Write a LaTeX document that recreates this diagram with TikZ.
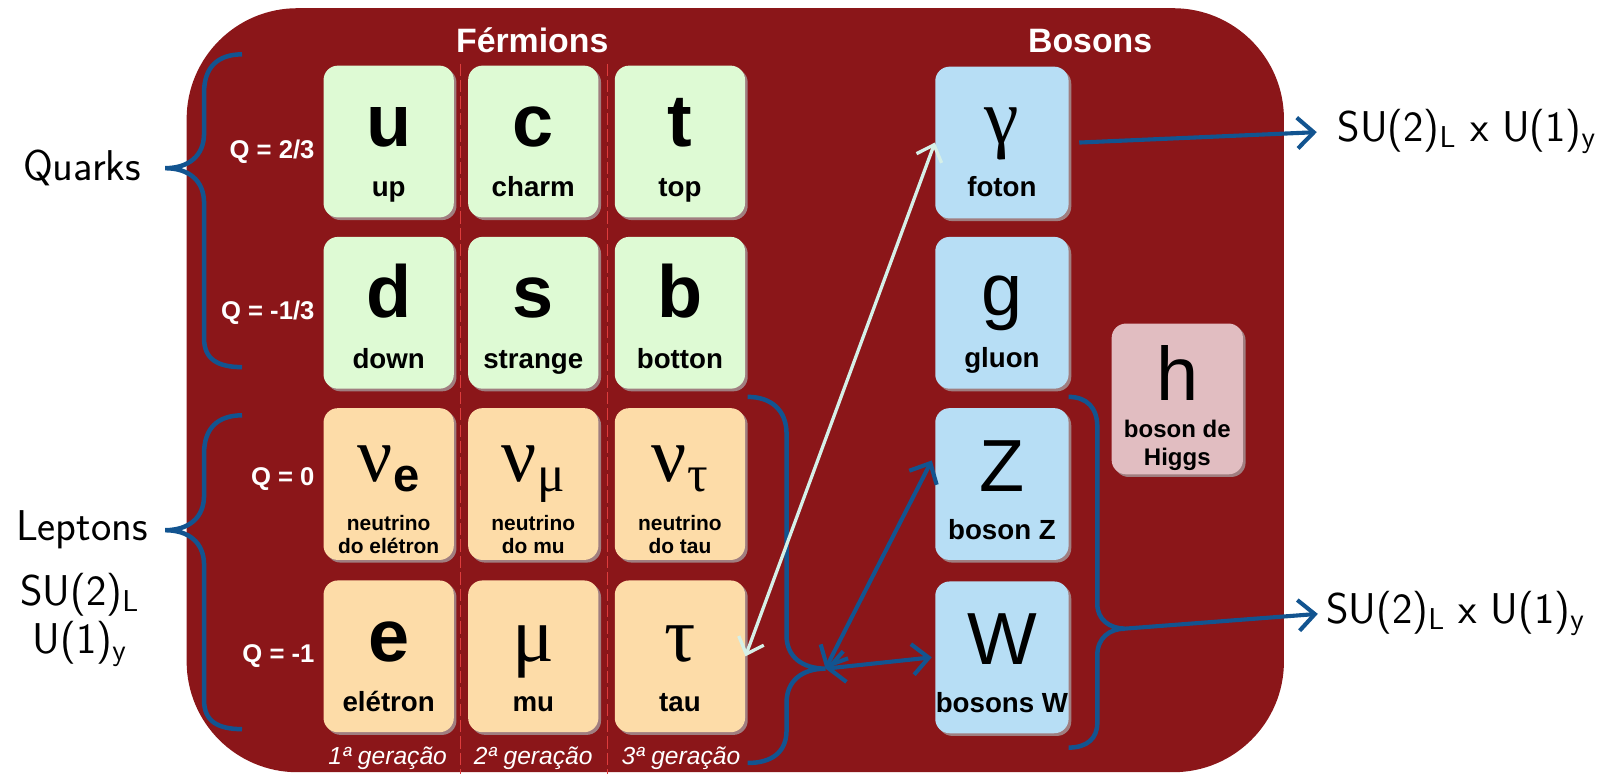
\documentclass[tikz,border=0pt]{standalone}
\usepackage{fontspec}
\newfontfamily\arialfont{Liberation Sans}
\newfontfamily\greekfont{Liberation Serif}
\usepackage{tikz}
\usetikzlibrary{arrows.meta,positioning,calc,shadows}

\definecolor{bgred}{RGB}{139,22,25}
\definecolor{quarkgreen}{RGB}{222,250,212}
\definecolor{leptonorange}{RGB}{253,220,168}
\definecolor{bosonblue}{RGB}{183,222,245}
\definecolor{higgspink}{RGB}{225,189,193}
\definecolor{boxshade}{RGB}{160,126,128}
\definecolor{braceblue}{RGB}{18,84,144}
\definecolor{mint}{RGB}{214,240,232}
\definecolor{genred}{RGB}{222,60,60}

\begin{document}
\begin{tikzpicture}[
  x=0.5pt, y=-0.5pt,
  pbox/.style={rounded corners=7pt, minimum width=63.5pt, minimum height=74pt, inner sep=0pt,
    drop shadow={shadow xshift=1.3pt, shadow yshift=-1.3pt, fill=boxshade, opacity=1}},
  qbox/.style={pbox, fill=quarkgreen},
  lbox/.style={pbox, fill=leptonorange},
  bbox/.style={pbox, minimum width=65pt, fill=bosonblue},
  sym/.style={anchor=base, inner sep=0pt, font=\fontsize{36}{36}\selectfont\arialfont\bfseries},
  symr/.style={anchor=base, inner sep=0pt, font=\fontsize{36}{36}\selectfont\arialfont},
  symg/.style={anchor=base, inner sep=0pt, font=\fontsize{38}{38}\selectfont\greekfont},
  plabel/.style={anchor=base, inner sep=0pt, font=\fontsize{13.5}{13.5}\selectfont\arialfont\bfseries},
  nlabel/.style={anchor=base, inner sep=0pt, font=\fontsize{10.2}{10.2}\selectfont\arialfont\bfseries},
  charge/.style={anchor=east, inner sep=0pt, text=white, font=\fontsize{12.5}{12.5}\selectfont\arialfont\bfseries},
  title/.style={anchor=base, inner sep=0pt, text=white, font=\fontsize{16.5}{16.5}\selectfont\arialfont\bfseries},
  gen/.style={anchor=base, inner sep=0pt, text=white, font=\fontsize{12}{12}\selectfont\arialfont\itshape},
  outer/.style={inner sep=0pt, font=\fontsize{21}{25}\selectfont\sffamily},
  brace/.style={draw=braceblue, line width=2.2pt},
  link/.style={draw=braceblue, line width=2pt, >={Straight Barb[length=8pt,width=15pt]}},
  mixing/.style={draw=mint, line width=1.6pt, >={Straight Barb[length=7pt,width=13pt]}},
  sep/.style={draw=genred, line width=0.5pt, dash pattern=on 6pt off 2pt}
]
\useasboundingbox (0,0) rectangle (1568,755);
\fill[bgred, rounded corners=54pt] (182,8) rectangle (1252,753);

% generation separators
\draw[sep] (449,62) -- (449,755);
\draw[sep] (592,62) -- (592,755);

\node[title] (fermions) at (519,51) {Férmions};
\node[title] (bosons) at (1063,51) {Bosons};

% quarks
\node[qbox] (u) at (379,138) {};
\node[qbox] (c) at (520,138) {};
\node[qbox] (t) at (663,138) {};
\node[qbox] (d) at (379,305) {};
\node[qbox] (s) at (520,305) {};
\node[qbox] (b) at (663,305) {};
\node[sym] (u-sym) at ($(u)+(0,5)$) {u};
\node[sym] (c-sym) at ($(c)+(0,5)$) {c};
\node[sym] (t-sym) at ($(t)+(0,5)$) {t};
\node[sym] (d-sym) at ($(d)+(0,5)$) {d};
\node[sym] (s-sym) at ($(s)+(0,5)$) {s};
\node[sym] (b-sym) at ($(b)+(0,5)$) {b};
\node[plabel] (u-lbl) at ($(u)+(0,54)$) {up};
\node[plabel] (c-lbl) at ($(c)+(0,54)$) {charm};
\node[plabel] (t-lbl) at ($(t)+(0,54)$) {top};
\node[plabel] (d-lbl) at ($(d)+(0,54)$) {down};
\node[plabel] (s-lbl) at ($(s)+(0,54)$) {strange};
\node[plabel] (b-lbl) at ($(b)+(0,54)$) {botton};

% leptons
\node[lbox] (nue) at (379,472) {};
\node[lbox] (numu) at (520,472) {};
\node[lbox] (nutau) at (663,472) {};
\node[lbox] (e) at (379,640) {};
\node[lbox] (mu) at (520,640) {};
\node[lbox] (tau) at (663,640) {};
\node[symg] (nue-sym) at ($(nue)+(0,-2)$) {ν\raisebox{-4.5pt}{\fontsize{23}{23}\selectfont\arialfont\bfseries e}};
\node[symg] (numu-sym) at ($(numu)+(0,-2)$) {ν\raisebox{-4.5pt}{\fontsize{25}{25}\selectfont μ}};
\node[symg] (nutau-sym) at ($(nutau)+(0,-2)$) {ν\raisebox{-4.5pt}{\fontsize{25}{25}\selectfont τ}};
\node[nlabel] (nue-lbl) at ($(nue)+(0,45)$) {neutrino};
\node[nlabel] (nue-lbl2) at ($(nue)+(0,68)$) {do elétron};
\node[nlabel] (numu-lbl) at ($(numu)+(0,45)$) {neutrino};
\node[nlabel] (numu-lbl2) at ($(numu)+(0,68)$) {do mu};
\node[nlabel] (nutau-lbl) at ($(nutau)+(0,45)$) {neutrino};
\node[nlabel] (nutau-lbl2) at ($(nutau)+(0,68)$) {do tau};
\node[sym] (e-sym) at ($(e)+(0,5)$) {e};
\node[symg] (mu-sym) at ($(mu)+(0,5)$) {μ};
\node[symg] (tau-sym) at ($(tau)+(0,5)$) {τ};
\node[plabel] (e-lbl) at ($(e)+(0,54)$) {elétron};
\node[plabel] (mu-lbl) at ($(mu)+(0,54)$) {mu};
\node[plabel] (tau-lbl) at ($(tau)+(0,54)$) {tau};

% charges and generations
\node[charge] (q1) at (307,148) {Q = 2/3};
\node[charge] (q2) at (307,305) {Q = -1/3};
\node[charge] (q3) at (307,467) {Q = 0};
\node[charge] (q4) at (307,640) {Q = -1};
\node[gen] (gen1) at (378,745) {1ª geração};
\node[gen] (gen2) at (520,745) {2ª geração};
\node[gen] (gen3) at (664,745) {3ª geração};

% bosons
\node[bbox] (gamma) at (977,139) {};
\node[bbox] (gluon) at (977,305) {};
\node[bbox] (Z) at (977,472) {};
\node[bbox] (W) at (977,641) {};
\node[pbox, minimum width=64pt, minimum height=73.5pt, fill=higgspink] (higgs) at (1148,389) {};
\node[symg] (gamma-sym) at ($(gamma)+(0,1)$) {γ};
\node[symr] (gluon-sym) at ($(gluon)+(0,3)$) {g};
\node[symr] (Z-sym) at ($(Z)+(0,7)$) {Z};
\node[symr] (W-sym) at ($(W)+(0,7)$) {W};
\node[symr, font=\fontsize{37}{37}\selectfont\arialfont] (higgs-sym) at ($(higgs)+(0,2)$) {h};
\node[plabel] (gamma-lbl) at ($(gamma)+(0,53)$) {foton};
\node[plabel] (gluon-lbl) at ($(gluon)+(0,53)$) {gluon};
\node[plabel] (Z-lbl) at ($(Z)+(0,54)$) {boson Z};
\node[plabel] (W-lbl) at ($(W)+(0,54)$) {bosons W};
\node[nlabel, font=\fontsize{11.7}{11.7}\selectfont\arialfont\bfseries] (higgs-lbl) at ($(higgs)+(0,38)$) {boson de};
\node[nlabel, font=\fontsize{11.7}{11.7}\selectfont\arialfont\bfseries] (higgs-lbl2) at ($(higgs)+(0,65)$) {Higgs};

% outside labels
\node[outer] (quarks) at (80,164) {Quarks};
\node[outer] (leptons) at (80,517) {Leptons};
\node[outer] (lep-su) at (78,580) {SU(2)\textsubscript{L}};
\node[outer] (lep-u) at (78,628) {U(1)\textsubscript{y}};
\node[outer, anchor=west] (su-top) at (1304,128) {SU(2)\textsubscript{L} x U(1)\textsubscript{y}};
\node[outer, anchor=west] (su-bot) at (1293,598) {SU(2)\textsubscript{L} x U(1)\textsubscript{y}};

% braces
\draw[brace] (236,53) .. controls (212,53) and (199,66) .. (199,90) -- (199,130)
  .. controls (199,152) and (184,164) .. (161,164)
  .. controls (184,164) and (199,176) .. (199,198) -- (199,330)
  .. controls (199,350) and (212,358) .. (236,358);
\draw[brace] (236,405) .. controls (212,405) and (199,418) .. (199,442) -- (199,483)
  .. controls (199,505) and (184,517) .. (161,517)
  .. controls (184,517) and (199,529) .. (199,551) -- (199,683)
  .. controls (199,703) and (212,711) .. (236,711);
\coordinate (lep-tip) at (805,652);
\coordinate (bos-tip) at (1097,613);
\draw[brace] (729,387) .. controls (752,387) and (767,400) .. (767,423) -- (767,620)
  .. controls (767,640) and (782,652) .. (lep-tip)
  .. controls (782,652) and (767,664) .. (767,685) -- (767,712)
  .. controls (767,734) and (752,744) .. (729,744);
\draw[brace] (1042,387) .. controls (1060,387) and (1070,398) .. (1070,416) -- (1070,589)
  .. controls (1070,604) and (1082,613) .. (bos-tip)
  .. controls (1082,613) and (1070,622) .. (1070,639) -- (1070,705)
  .. controls (1070,720) and (1060,729) .. (1042,729);

% connections
\draw[mixing, <->] (tau.east) -- (gamma.west);
\draw[link, <->] (lep-tip) -- ([xshift=-1.5pt, yshift=11.5pt]Z.west);
\draw[link, <->] (lep-tip) -- ([xshift=-1.5pt]W.west);
\draw[link, ->, shorten >=10pt] ([xshift=5pt]gamma.east) -- (su-top.west);
\draw[link, ->, shorten >=4pt] (bos-tip) -- (su-bot.west);
\end{tikzpicture}
\end{document}
